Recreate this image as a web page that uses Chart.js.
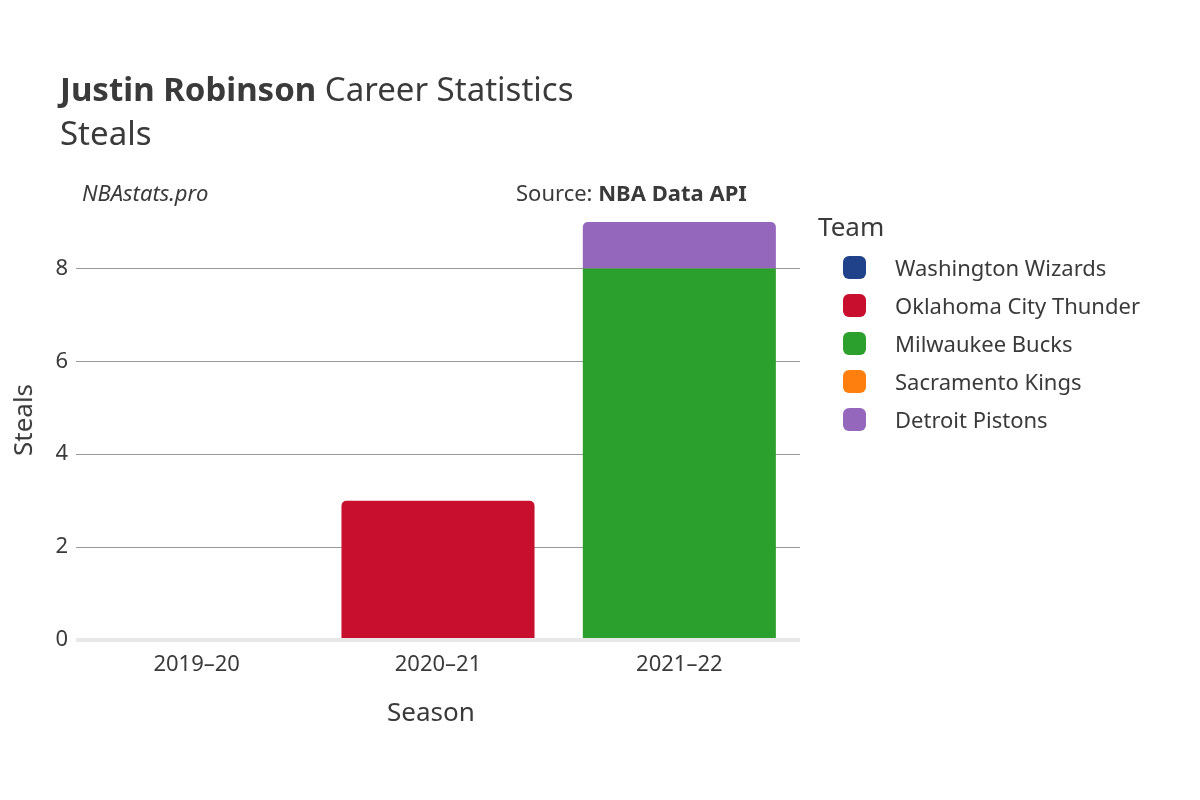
<!DOCTYPE html>
<html><head><meta charset="utf-8">
<script src="https://cdn.jsdelivr.net/npm/chart.js@4"></script>
<style>
body{margin:0;width:1200px;height:800px;background:#fff;font-family:"Noto Sans",sans-serif;color:#3a3a3a;position:relative;overflow:hidden}
.t{position:absolute;white-space:nowrap}
.leg{position:absolute;left:843px;display:flex;align-items:center;font-size:22px;height:30px}
.sw{width:23px;height:23px;border-radius:6px;margin-right:29px}
canvas{position:absolute;left:0;top:0}
</style></head><body>
<canvas id="c" width="1200" height="800"></canvas>
<div class="t" style="left:60px;top:66px;font-size:33px"><b>Justin Robinson</b> Career Statistics</div>
<div class="t" style="left:60px;top:110px;font-size:33px">Steals</div>
<div class="t" style="left:82px;top:177px;font-size:22px;font-style:italic">NBAstats.pro</div>
<div class="t" style="left:516px;top:177px;font-size:22px">Source: <b>NBA Data API</b></div>
<div class="t" style="left:-14px;top:402px;font-size:26px;transform:rotate(-90deg)">Steals</div>
<div class="t" style="left:387px;top:693px;font-size:26px">Season</div>
<div class="t" style="left:818px;top:208px;font-size:26px">Team</div>
<div id="legend"></div>
<script>
const seasons = ["2019–20", "2020–21", "2021–22"];
const teams = ["Washington Wizards", "Oklahoma City Thunder", "Milwaukee Bucks", "Sacramento Kings", "Detroit Pistons"];
const teamColors = ["#1f428a", "#c8102e", "#2ca02c", "#ff7f0e", "#9467bd"];
const wizards = [0, 0, 0];
const thunder = [0, 3, 0];
const bucks = [0, 0, 8];
const kings = [0, 0, 0];
const pistons = [0, 0, 1];
const values = [wizards, thunder, bucks, kings, pistons];

document.getElementById("legend").innerHTML = teams
  .map((t, i) => `<div class="leg" style="top:${252 + i * 38}px"><div class="sw" style="background:${teamColors[i]}"></div>${t}</div>`)
  .join("");

const rounded = [false, true, false, false, true];
new Chart(document.getElementById("c"), {
  type: "bar",
  data: {
    labels: seasons,
    datasets: teams.map((t, i) => ({
      label: t,
      data: values[i],
      backgroundColor: teamColors[i],
      borderRadius: rounded[i] ? { topLeft: 5, topRight: 5 } : 0,
      borderSkipped: false,
      categoryPercentage: 0.8,
      barPercentage: 1,
    })),
  },
  options: {
    responsive: false,
    animation: false,
    layout: { padding: { left: 0, top: 222, right: 400, bottom: 0 } },
    plugins: { legend: { display: false }, tooltip: { enabled: false } },
    scales: {
      x: {
        stacked: true,
        grid: { display: false },
        border: { display: false },
        ticks: { font: { family: "Noto Sans", size: 22 }, color: "#3a3a3a", padding: 4 },
        afterFit: (s) => { s.height = 160; },
      },
      y: {
        stacked: true,
        min: 0,
        max: 9,
        ticks: { stepSize: 2, font: { family: "Noto Sans", size: 22 }, color: "#3a3a3a", padding: 8 },
        afterBuildTicks: (s) => { s.ticks = s.ticks.filter((t) => t.value % 2 === 0); },
        grid: {
          color: (ctx) => (ctx.tick && ctx.tick.value === 0 ? "#e8e8e8" : "#999"),
          lineWidth: (ctx) => (ctx.tick && ctx.tick.value === 0 ? 4 : 1),
          drawTicks: false,
        },
        border: { display: false },
        afterFit: (s) => { s.width = 76; },
      },
    },
  },
});
</script>
</body></html>
